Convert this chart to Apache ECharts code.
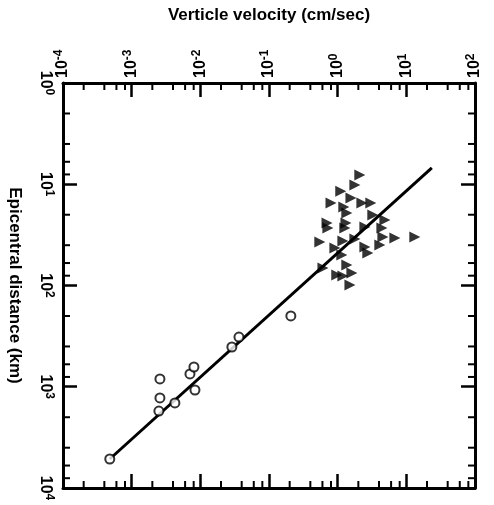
<!DOCTYPE html>
<html>
<head>
<meta charset="utf-8">
<script src="https://cdn.jsdelivr.net/npm/echarts@6/dist/echarts.min.js"></script>
<style>
html, body { margin: 0; padding: 0; background: #fff; }
#chart { width: 494px; height: 505px; }
</style>
</head>
<body>
<div id="chart"></div>
<script>
// open circles
const circleVelocity = [4.8e-4, 2.58e-3, 2.58e-3, 2.49e-3, 4.26e-3, 7.06e-3, 8.07e-3, 8.35e-3, 0.0288, 0.0365, 0.208]
const circleDistance = [5170, 838, 1291, 1737, 1446, 748, 638, 1077, 405, 323, 200]

// filled triangles
const triangleVelocity = [2.10, 1.78, 1.11, 1.56, 2.25, 3.04, 0.80, 1.23, 1.36, 3.25, 4.87, 0.70, 1.32, 2.49, 0.72, 1.27, 4.40,
  0.55, 1.19, 1.78, 4.55, 6.81, 13.3, 2.49, 4.11, 0.91, 1.15, 2.75, 1.36, 0.61, 0.97, 1.19, 1.61, 1.51]
const triangleDistance = [8.1, 10.2, 11.7, 13.7, 15.3, 15.3, 15.3, 16.8, 19.2, 20.1, 22.6, 24.1, 24.1, 26.4, 27.0, 27.0, 27.0,
  37.2, 36.3, 34.7, 33.2, 34.0, 33.2, 41.7, 39.8, 42.6, 50.0, 47.8, 62.8, 67.2, 78.8, 80.5, 75.3, 98.9]

// fitted line
const fitVelocity = [4.8e-4, 23.5]
const fitDistance = [5170, 6.9]

// axis ranges and minor tick steps
const velocityRange = [1e-4, 1e2]
const distanceRange = [1, 1e4]
const minorSteps = [2, 4, 6, 8]

const zip = (a, b) => a.map((v, i) => [v, b[i]])

function decades(range) {
  const out = []
  for (let d = range[0]; d < range[1] * 0.99; d *= 10) {
    minorSteps.forEach(s => out.push(d * s))
  }
  return out
}

const labelRich = {
  b: { fontSize: 16, fontWeight: 'bold', fontFamily: 'Liberation Sans', color: '#000', lineHeight: 20 },
  s: { fontSize: 12, fontWeight: 'bold', fontFamily: 'Liberation Sans', color: '#000', verticalAlign: 'top', lineHeight: 12 }
}
const powLabel = v => '{b|10}{s|' + Math.round(Math.log10(v)) + '}'

const frame = { show: true, lineStyle: { color: '#000', width: 3 } }
const majorTick = { show: true, inside: true, length: 14, lineStyle: { color: '#000', width: 2.5 } }

function minorTickSeries(values, dir) {
  return {
    type: 'custom',
    silent: true,
    clip: false,
    data: values.map(v => dir === 'x' ? [v, 1] : [1, v]),
    renderItem: (params, api) => {
      const cs = params.coordSys
      const len = 7
      const style = { stroke: '#000', lineWidth: 2 }
      if (dir === 'x') {
        const x = api.coord([api.value(0), 1])[0]
        return {
          type: 'group',
          children: [
            { type: 'line', shape: { x1: x, y1: cs.y, x2: x, y2: cs.y + len }, style },
            { type: 'line', shape: { x1: x, y1: cs.y + cs.height, x2: x, y2: cs.y + cs.height - len }, style }
          ]
        }
      }
      const y = api.coord([1, api.value(1)])[1]
      return {
        type: 'group',
        children: [
          { type: 'line', shape: { x1: cs.x, y1: y, x2: cs.x + len, y2: y }, style },
          { type: 'line', shape: { x1: cs.x + cs.width, y1: y, x2: cs.x + cs.width - len, y2: y }, style }
        ]
      }
    }
  }
}

const chart = echarts.init(document.getElementById('chart'))
chart.setOption({
  animation: false,
  backgroundColor: '#fff',
  grid: { left: 63, top: 83, width: 412, height: 405, containLabel: false, outerBoundsMode: 'none' },
  xAxis: [
    {
      type: 'log',
      position: 'top',
      min: velocityRange[0],
      max: velocityRange[1],
      name: 'Verticle velocity (cm/sec)',
      nameLocation: 'middle',
      nameGap: 59,
      nameTextStyle: { fontSize: 17, fontWeight: 'bold', fontFamily: 'Liberation Sans', color: '#000' },
      axisLine: frame,
      axisTick: majorTick,
      splitLine: { show: false },
      axisLabel: { rotate: -90, margin: 5, formatter: powLabel, rich: labelRich }
    },
    {
      type: 'log',
      position: 'bottom',
      min: velocityRange[0],
      max: velocityRange[1],
      axisLine: frame,
      axisTick: majorTick,
      splitLine: { show: false },
      axisLabel: { show: false }
    }
  ],
  yAxis: [
    {
      type: 'log',
      inverse: true,
      position: 'left',
      min: distanceRange[0],
      max: distanceRange[1],
      name: 'Epicentral distance (km)',
      nameLocation: 'middle',
      nameRotate: -90,
      nameGap: 40,
      nameTextStyle: { fontSize: 17, fontWeight: 'bold', fontFamily: 'Liberation Sans', color: '#000' },
      axisLine: frame,
      axisTick: majorTick,
      splitLine: { show: false },
      axisLabel: { rotate: -90, margin: 8, formatter: powLabel, rich: labelRich }
    },
    {
      type: 'log',
      inverse: true,
      position: 'right',
      min: distanceRange[0],
      max: distanceRange[1],
      axisLine: frame,
      axisTick: majorTick,
      splitLine: { show: false },
      axisLabel: { show: false }
    }
  ],
  series: [
    minorTickSeries(decades(velocityRange), 'x'),
    minorTickSeries(decades(distanceRange), 'y'),
    {
      type: 'line',
      data: zip(fitVelocity, fitDistance),
      showSymbol: false,
      lineStyle: { color: '#000', width: 3 },
      z: 2
    },
    {
      type: 'scatter',
      data: zip(triangleVelocity, triangleDistance),
      symbol: 'triangle',
      symbolRotate: -90,
      symbolSize: 11,
      itemStyle: { color: '#000' },
      z: 3
    },
    {
      type: 'scatter',
      data: zip(circleVelocity, circleDistance),
      symbol: 'circle',
      symbolSize: 9,
      itemStyle: { color: '#fff', borderColor: '#000', borderWidth: 2 },
      z: 4
    }
  ]
})
</script>
</body>
</html>
